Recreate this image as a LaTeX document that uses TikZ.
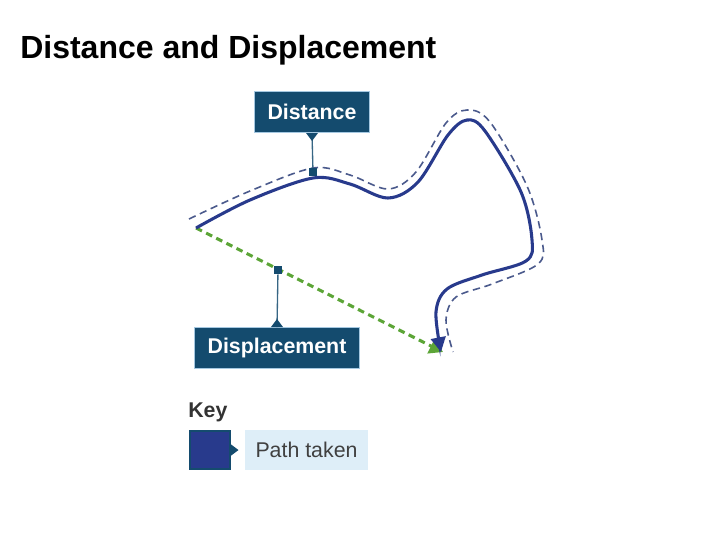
\documentclass[tikz,border=0pt]{standalone}
\usepackage{fontspec}
\setmainfont{Liberation Sans}
\usepackage{tikz}
\usetikzlibrary{arrows.meta}

\definecolor{tagblue}{RGB}{20,75,110}
\definecolor{tagedge}{RGB}{165,200,225}
\definecolor{pathblue}{RGB}{40,58,140}
\definecolor{dashblue}{RGB}{75,90,140}
\definecolor{arrowgreen}{RGB}{92,165,55}
\definecolor{keylight}{RGB}{222,238,248}

\tikzset{
  tag/.style={draw=tagedge,line width=1pt,fill=tagblue,text=white,
    font=\fontsize{16}{19}\selectfont\bfseries,inner xsep=10pt,minimum height=30.5pt},
  tagline/.style={draw=tagblue!85,line width=1pt},
  tagmark/.style={fill=tagblue,inner sep=0pt,minimum size=6pt},
  pathline/.style={draw=pathblue,line width=2.3pt,-{Triangle[length=11pt,width=11pt]}},
  guide/.style={draw=dashblue,line width=1.2pt,dash pattern=on 5.5pt off 3.5pt},
  moved/.style={draw=arrowgreen,line width=2.3pt,dash pattern=on 5pt off 3.5pt,
    -{Triangle[length=10pt,width=12pt]}}
}

\begin{document}
\begin{tikzpicture}[x=0.75pt,y=-0.75pt]
\useasboundingbox (0,0) rectangle (720,540);

\node (title) at (20,58) [anchor=base west,inner sep=0pt,font=\fontsize{24}{28}\selectfont\bfseries]{Distance and Displacement};

\coordinate (start) at (196,228);
\coordinate (finish) at (443,352);

% outer guide
\draw [guide] plot [smooth,tension=0.55] coordinates {(189,219) (250,191) (313,168) (350,175) (388,189) (416,172) (446,123) (467,110) (490,122) (527,186) (542,240) (538,264) (492,284) (456,297) (446,320) (453,352)};

% green displacement arrow
\draw [moved] (start) -- (finish);

% path taken
\draw [pathline] plot [smooth,tension=0.55] coordinates {(196,228) (250,200) (313,178) (350,184) (388,198) (418,182) (448,135) (467,120) (485,131) (521,192) (532,240) (526,261) (482,275) (447,289) (436,312) (441,352)};

\node (distbox) at (312,112) [tag]{Distance};
\node (distmark) at (313,172) [tagmark]{};
\draw [tagline] (distbox.south) -- (distmark);
\fill [tagblue] (distbox.south) ++(-6,0) -- ++(12,0) -- ++(-6,8) -- cycle;

\node (dispmark) at (278,270) [tagmark]{};
\node (dispbox) at (277,348) [tag]{Displacement};
\draw [tagline] (dispmark) -- (dispbox.north);
\fill [tagblue] (dispbox.north) ++(-6,0) -- ++(12,0) -- ++(-6,-8) -- cycle;

% key
\node (key) at (188,417) [anchor=base west,inner sep=0pt,text=black!80,font=\fontsize{16}{19}\selectfont\bfseries]{Key};
\node (keybox) at (209.5,450) [draw=tagblue,line width=1.5pt,fill=pathblue,minimum width=30pt,minimum height=28.5pt,inner sep=0pt]{};
\fill [tagblue] (keybox.east) ++(0,-6) -- ++(8,6) -- ++(-8,6) -- cycle;
\node (keytext) at (306.5,450) [fill=keylight,minimum width=92pt,minimum height=30pt,text=black!75,font=\fontsize{16}{19}\selectfont]{Path taken};

\end{tikzpicture}
\end{document}
